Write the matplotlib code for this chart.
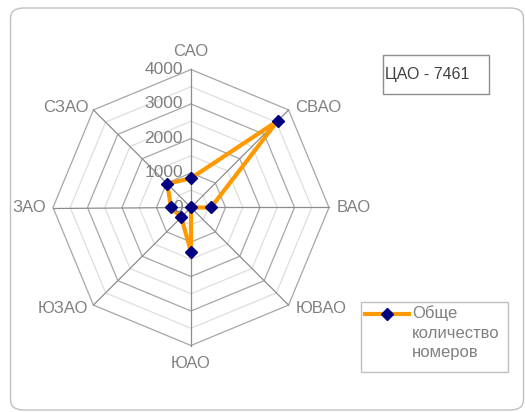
import numpy as np
import matplotlib
matplotlib.use('Agg')
import matplotlib.pyplot as plt
from matplotlib.patches import FancyBboxPatch, Rectangle
from matplotlib.lines import Line2D

plt.rcParams['font.family'] = ['Liberation Sans', 'DejaVu Sans']

# Districts and number of rooms
districts = ['САО', 'СВАО', 'ВАО', 'ЮВАО', 'ЮАО', 'ЮЗАО', 'ЗАО', 'СЗАО']
rooms = [850, 3550, 580, 0, 1290, 400, 580, 970]
r_ticks = [0, 1000, 2000, 3000, 4000]
series_name = 'Обще\nколичество\nномеров'
note_text = 'ЦАО - 7461'

W, H = 525, 412
fig = plt.figure(figsize=(W / 100, H / 100), dpi=100)

# outer rounded frame
fig.add_artist(FancyBboxPatch((10.5 / W, 2 / H), 513 / W, 402 / H,
                              boxstyle='round,pad=0,rounding_size=0.025',
                              transform=fig.transFigure, fill=False,
                              ec='#c0c0c0', lw=1.0))

cx, cy, R = 191, 207.5, 138
ax = fig.add_axes([(cx - R) / W, (H - cy - R) / H, 2 * R / W, 2 * R / H],
                  projection='polar')
ax.set_theta_zero_location('N')
ax.set_theta_direction(-1)
ax.set_ylim(0, 4000)
ax.grid(False)
ax.set_xticks([])
ax.set_yticks([])
ax.spines['polar'].set_visible(False)
ax.patch.set_alpha(0)

n = len(districts)
theta = np.arange(n) * 2 * np.pi / n
theta_c = np.append(theta, theta[0])

# octagonal grid
for r in range(500, 4001, 500):
    col = '#a6a6a6' if r % 1000 == 0 else '#dedede'
    ax.plot(theta_c, [r] * (n + 1), color=col, lw=0.9, clip_on=False, zorder=1)
for t in theta:
    ax.plot([t, t], [0, 4000], color='#8c8c8c', lw=0.9, clip_on=False, zorder=1)

# data
vals = rooms + rooms[:1]
ax.plot(theta_c, vals, color='#ff9900', lw=3, zorder=3, clip_on=False)
ax.plot(theta, rooms, ls='none', marker='D', ms=5.8, color='#000080',
        zorder=4, clip_on=False)

# category labels
lab_style = dict(fontsize=12, color='#808080', textcoords='offset pixels',
                 annotation_clip=False)
offsets = [((0, 10), 'center', 'bottom'),
           ((7, 2), 'left', 'center'),
           ((8, 0), 'left', 'center'),
           ((7, -3), 'left', 'center'),
           ((0, -10), 'center', 'top'),
           ((-5, -3), 'right', 'center'),
           ((-7, 0), 'right', 'center'),
           ((-5, 2), 'right', 'center')]
for t, name, (off, ha, va) in zip(theta, districts, offsets):
    ax.annotate(name, xy=(t, 4000), xytext=off, ha=ha, va=va, **lab_style)

tick_style = dict(lab_style, fontsize=12.5)
for r in r_ticks:
    ax.annotate(str(r), xy=(0, r), xytext=(-8, 0), ha='right', va='center',
                **tick_style)

# note box
fig.add_artist(Rectangle((383 / W, 1 - 94 / H), 106 / W, 39 / H,
                         transform=fig.transFigure, fill=False,
                         ec='#8c8c8c', lw=1.0))
fig.text(385 / W, 1 - 75 / H, note_text, fontsize=11.5, color='#404040',
         ha='left', va='center')

# legend
fig.add_artist(Rectangle((361 / W, 1 - 372 / H), 147 / W, 70 / H,
                         transform=fig.transFigure, fill=False,
                         ec='#c0c0c0', lw=1.0))
fig.add_artist(Line2D([365 / W, 409 / W], [1 - 314 / H] * 2,
                      transform=fig.transFigure, color='#ff9900', lw=3))
fig.add_artist(Line2D([387 / W], [1 - 314 / H], transform=fig.transFigure,
                      marker='D', ms=5.8, color='#000080'))
fig.text(412 / W, 1 - 305 / H, series_name, fontsize=12, color='#808080',
         ha='left', va='top', linespacing=1.4)

fig.savefig('out.png', dpi=100)
